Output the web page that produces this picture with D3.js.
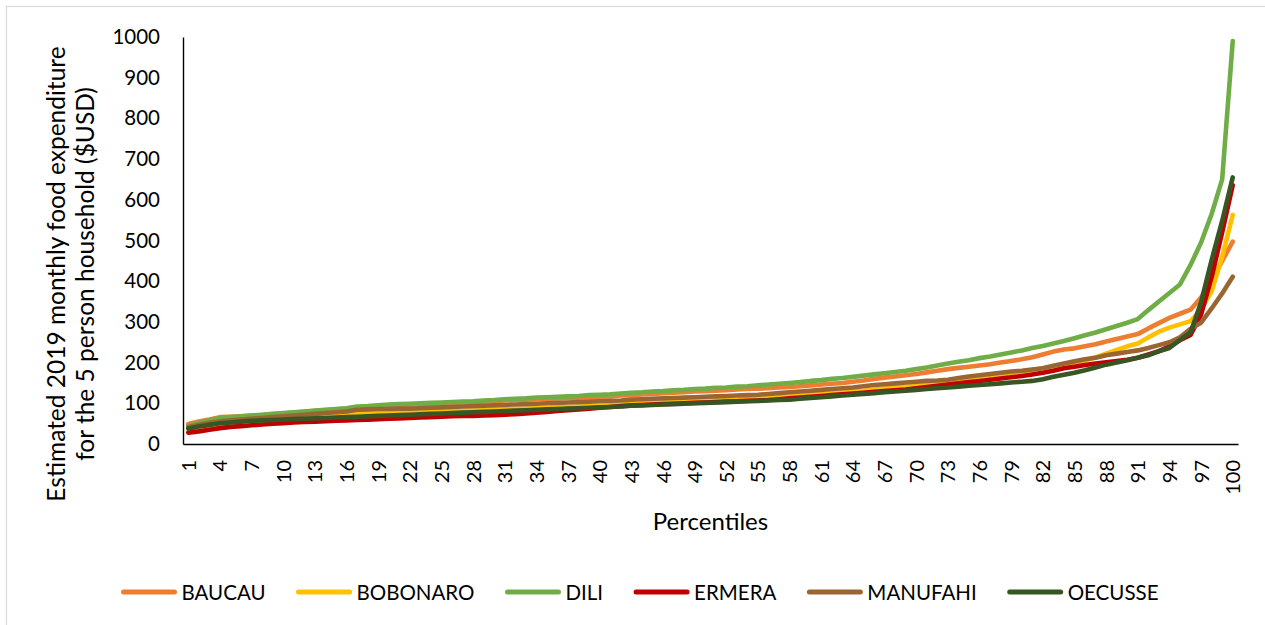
<!DOCTYPE html>
<html>
<head>
<meta charset="utf-8">
<script src="https://cdn.jsdelivr.net/npm/d3@7"></script>
<style>
  body { margin: 0; background: #fff; }
  svg { display: block; }
  text { font-family: Lato, "Open Sans", sans-serif; fill: #000; }
</style>
</head>
<body>
<svg id="chart" width="1265" height="625"></svg>
<script>
// Percentile positions 1..100
const percentiles = d3.range(1, 101);

// Estimated 2019 monthly food expenditure (USD) per percentile, by municipality
const baucau = [49,55,60,66,67,68,70,71,73,75, 77,79,81,83,85,87,90,91,93,95,
  96,97,98,99,100,101,102,103,104,105, 107,108,109,110,111,112,113,114,115,116,
  117,119,120,122,123,125,126,127,129,130, 131,132,134,135,136,137,139,140,142,144,
  146,148,150,153,156,160,163,166,169,172, 176,180,184,187,190,193,196,200,204,208,
  213,220,227,232,235,240,245,252,258,264, 270,284,297,310,320,330,360,402,450,497];

const bobonaro = [38,42,45,48,51,54,57,59,61,63, 65,66,68,70,71,73,75,76,77,78,
  78,79,80,80,81,81,82,82,83,84, 85,86,87,88,89,90,91,92,93,94,
  95,97,98,100,101,102,103,104,105,106, 107,108,109,111,112,113,115,117,119,121,
  123,125,127,129,131,134,137,139,141,143, 145,147,150,155,160,165,168,171,174,178,
  182,186,190,194,198,205,213,222,231,240, 247,262,276,286,294,302,330,375,460,563];

const dili = [45,52,58,64,66,68,70,72,74,76, 78,80,82,84,86,88,92,93,95,97,
  98,99,100,101,102,103,104,105,107,108, 110,111,112,114,115,116,117,118,120,121,
  122,124,126,127,129,130,132,133,135,136, 138,139,141,142,144,146,148,150,152,155,
  157,160,162,165,168,171,174,177,180,184, 188,193,198,202,206,211,215,220,225,230,
  236,241,247,253,260,267,274,282,290,298, 307,329,350,371,392,440,495,565,650,990];

const ermera = [28,31,35,39,42,44,46,48,50,51, 53,54,55,56,57,58,59,60,61,62,
  63,64,65,66,67,68,69,69,70,71, 72,73,75,77,79,81,83,85,87,89,
  91,93,95,96,97,98,99,100,101,102, 103,104,105,106,107,108,110,112,114,116,
  118,120,122,124,126,128,130,132,134,137, 140,143,146,149,152,155,158,161,164,167,
  171,175,180,186,190,194,198,201,204,207, 212,220,228,240,255,268,318,410,520,636];

const manufahi = [42,47,52,56,58,60,62,64,66,68, 70,72,74,76,78,80,84,85,86,86,
  87,87,88,89,90,91,92,93,94,95, 96,97,98,99,100,101,102,103,104,105,
  106,107,109,110,111,112,113,114,115,116, 117,118,119,120,121,123,125,127,129,131,
  133,135,137,139,142,145,147,149,151,153, 155,156,158,162,166,169,172,175,178,180,
  183,186,192,198,203,208,212,218,222,226, 230,236,243,250,262,283,298,333,370,411];

const oecusse = [38,43,47,51,53,55,57,58,59,60, 61,62,63,64,65,66,67,68,69,70,
  71,72,73,74,75,76,77,78,79,80, 81,82,83,84,85,86,87,88,89,90,
  91,92,94,95,96,97,98,99,100,101, 102,103,104,105,106,107,108,109,111,113,
  115,117,119,121,123,125,127,129,131,133, 135,137,139,141,143,145,147,149,151,153,
  155,159,165,170,175,181,188,195,200,206, 212,218,228,236,256,274,348,452,548,655];

const seriesNames = ["BAUCAU", "BOBONARO", "DILI", "ERMERA", "MANUFAHI", "OECUSSE"];
const seriesValues = [baucau, bobonaro, dili, ermera, manufahi, oecusse];
const seriesColors = ["#ED7D31", "#FFC000", "#70AD47", "#C00000", "#996633", "#375623"];

const yTicks = [0, 100, 200, 300, 400, 500, 600, 700, 800, 900, 1000];
const xTickLabels = percentiles.filter(p => (p - 1) % 3 === 0);

const svg = d3.select("#chart");

// chart frame (only its top and left edges fall inside the view)
svg.append("rect")
  .attr("x", 6.5).attr("y", 6.5)
  .attr("width", 1300).attr("height", 700)
  .attr("fill", "#fff").attr("stroke", "#d9d9d9").attr("stroke-width", 1.2);

const plot = { left: 183, right: 1238, top: 37, bottom: 444 };

const x = d3.scalePoint()
  .domain(percentiles)
  .range([plot.left, plot.right])
  .padding(0.5);

const y = d3.scaleLinear()
  .domain([0, 1000])
  .range([plot.bottom, plot.top]);

// y axis
const yAxis = svg.append("g")
  .attr("transform", `translate(${plot.left},0)`)
  .call(d3.axisLeft(y).tickValues(yTicks).tickFormat(d3.format("d")).tickSize(0).tickPadding(23));
yAxis.select(".domain").attr("stroke", "#000").attr("stroke-width", 1.4);
yAxis.selectAll("text").style("font-size", "20.5px").style("font-family", "Lato, sans-serif");

// x axis with vertical labels
const xAxis = svg.append("g")
  .attr("transform", `translate(0,${plot.bottom})`)
  .call(d3.axisBottom(x).tickValues(xTickLabels).tickSize(0));
xAxis.select(".domain").attr("stroke", "#000").attr("stroke-width", 1.4);
xAxis.selectAll("text")
  .attr("y", 0)
  .attr("x", -16)
  .attr("dy", "0.35em")
  .attr("transform", "rotate(-90)")
  .style("text-anchor", "end")
  .style("font-size", "20px")
  .style("font-family", "Lato, sans-serif");

// axis titles
const yTitle = svg.append("text")
  .attr("transform", "translate(65,274) rotate(-90)")
  .attr("text-anchor", "middle")
  .style("font-size", "24.5px");
yTitle.append("tspan").attr("x", 0).attr("y", 0)
  .text("Estimated 2019 monthly food expenditure");
yTitle.append("tspan").attr("x", 0).attr("y", 29)
  .text("for the 5 person household ($USD)");

svg.append("text")
  .attr("x", (plot.left + plot.right) / 2)
  .attr("y", 530)
  .attr("text-anchor", "middle")
  .style("font-size", "24px")
  .text("Percentiles");

// series lines
const line = d3.line()
  .x((d, i) => x(percentiles[i]))
  .y(d => y(d));

svg.append("g")
  .selectAll("path")
  .data(seriesValues)
  .join("path")
  .attr("d", d => line(d))
  .attr("fill", "none")
  .attr("stroke", (d, i) => seriesColors[i])
  .attr("stroke-width", 4.6)
  .attr("stroke-linejoin", "round")
  .attr("stroke-linecap", "round");

// legend, laid out left to right and centred under the chart
const legend = svg.append("g");
const swatchW = 55, swatchGap = 5, itemGap = 31, legendY = 592;
let cursor = 0;
seriesNames.forEach((name, i) => {
  const g = legend.append("g").attr("transform", `translate(${cursor},0)`);
  g.append("line")
    .attr("x1", 2).attr("x2", swatchW - 2)
    .attr("y1", legendY).attr("y2", legendY)
    .attr("stroke", seriesColors[i])
    .attr("stroke-width", 5)
    .attr("stroke-linecap", "round");
  const t = g.append("text")
    .attr("x", swatchW + swatchGap)
    .attr("y", legendY + 8)
    .style("font-size", "20.5px")
    .text(name);
  cursor += swatchW + swatchGap + t.node().getComputedTextLength() + itemGap;
});
const legendWidth = cursor - itemGap;
legend.attr("transform", `translate(${640 - legendWidth / 2},0)`);
</script>
</body>
</html>
